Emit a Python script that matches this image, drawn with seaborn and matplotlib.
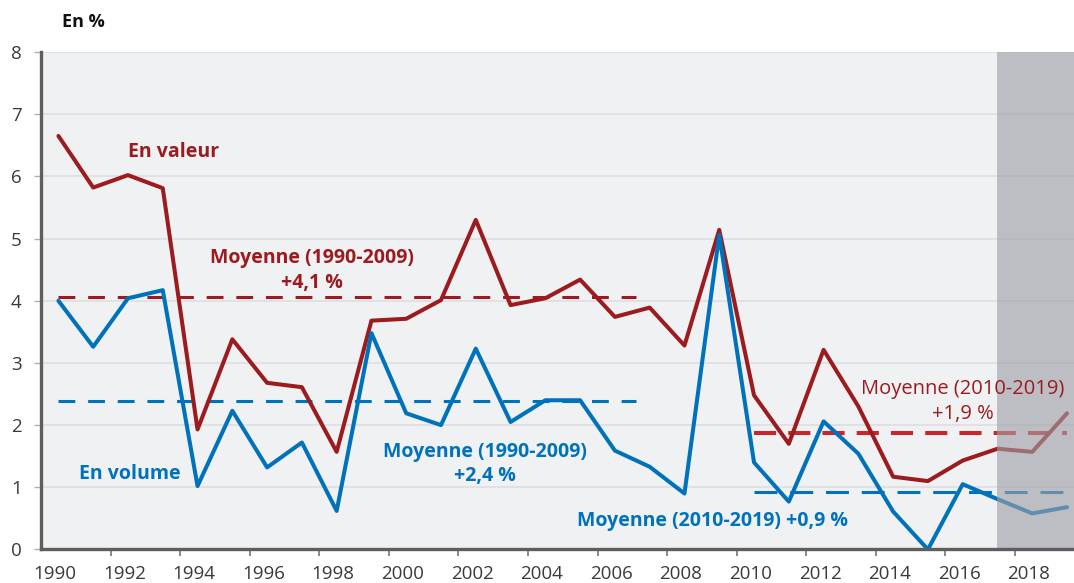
import numpy as np
import pandas as pd
import seaborn as sns
import matplotlib.pyplot as plt

# data
years = list(range(1990, 2020))
valeur = [6.65, 5.82, 6.02, 5.81, 1.93, 3.38, 2.68, 2.61, 1.57, 3.68,
          3.71, 4.01, 5.30, 3.93, 4.04, 4.34, 3.74, 3.89, 3.28, 5.14,
          2.48, 1.70, 3.21, 2.30, 1.17, 1.10, 1.43, 1.62, 1.57, 2.19]
volume = [4.00, 3.26, 4.04, 4.17, 1.02, 2.23, 1.32, 1.72, 0.62, 3.48,
          2.19, 2.00, 3.23, 2.05, 2.40, 2.40, 1.59, 1.33, 0.90, 5.06,
          1.40, 0.77, 2.06, 1.54, 0.61, 0.00, 1.05, 0.81, 0.58, 0.68]
mean_valeur = [4.06, 1.87]
mean_volume = [2.39, 0.93]
mean_spans = [(1990, 2006.6), (2010, 2019)]
forecast_from = 2017
xtick_years = list(range(1990, 2019, 2))

red = "#9B1B1F"
red_light = "#C8262C"
blue = "#0072BC"

sns.set_theme(style="white")
plt.rcParams["font.family"] = ["Open Sans", "DejaVu Sans"]

df = pd.DataFrame({
    "year": years * 2,
    "value": valeur + volume,
    "serie": ["En valeur"] * len(years) + ["En volume"] * len(years),
})
df["x"] = df["year"] + 0.5  # annual points drawn mid-year

fig = plt.figure(figsize=(10.74, 5.83), dpi=100)
ax = fig.add_axes([0.0382, 0.0575, 0.9618, 0.8533])
ax.set_facecolor("#F0F1F3")

sns.lineplot(data=df, x="x", y="value", hue="serie",
             palette={"En valeur": red, "En volume": blue},
             linewidth=2.9, legend=False, ax=ax, zorder=3)

# averages
(s1, e1), (s2, e2) = mean_spans
ax.hlines(mean_valeur[0], s1 + 0.5, e1 + 0.5, color=red, lw=2.2,
          linestyles=(0, (5.5, 4.2)), zorder=2)
ax.hlines(mean_volume[0], s1 + 0.5, e1 + 0.5, color=blue, lw=2.2,
          linestyles=(0, (5.5, 4.2)), zorder=2)
ax.hlines(mean_valeur[1], s2 + 0.5, e2 + 0.5, color=red_light, lw=2.9,
          linestyles=(0, (5.5, 3.0)), zorder=2)
ax.hlines(mean_volume[1], s2 + 0.5, e2 + 0.5, color=blue, lw=2.2,
          linestyles=(0, (7.5, 4.2)), zorder=2)

ax.set_xlim(1990, 2019.7)
ax.set_ylim(0, 8)

# forecast band
ax.axvspan(forecast_from + 0.5, 2019.7, color="#9FA0A6", alpha=0.62,
           lw=0, zorder=4)

# axes styling
ax.set_yticks(range(0, 9))
ax.yaxis.grid(True, color="#DCDDE0", lw=1.1)
ax.set_axisbelow(True)
for side in ["top", "right"]:
    ax.spines[side].set_visible(False)
for side in ["left", "bottom"]:
    ax.spines[side].set_color("#5E5E60")
    ax.spines[side].set_linewidth(2.4)
    ax.spines[side].set_zorder(6)

ax.set_xticks(xtick_years[1:])
ax.set_xticklabels([])
ax.set_xticks([y + 0.4 for y in xtick_years], minor=True)
ax.set_xticklabels([str(y) for y in xtick_years], minor=True)
ax.tick_params(axis="x", which="major", direction="out", length=5,
               width=1.4, color="#8A8A8C", bottom=True)
ax.tick_params(axis="x", which="minor", length=0, labelsize=13.5,
               labelcolor="#3A3A3C", pad=11)
ax.tick_params(axis="y", direction="out", length=5, width=1,
               color="#B0B0B3", left=True, labelsize=13.5,
               labelcolor="#3A3A3C", pad=9)
ax.set_xlabel("")
ax.set_ylabel("")

# annotations
txt = dict(ha="center", va="center", zorder=7, fontsize=14)
ax.text(1993.8, 6.39, "En valeur", color=red, fontweight="bold", **txt)
ax.text(1997.8, 4.69, "Moyenne (1990-2009)", color=red, fontweight="bold", **txt)
ax.text(1997.8, 4.28, "+4,1 %", color=red, fontweight="bold", **txt)
ax.text(1992.55, 1.21, "En volume", color=blue, fontweight="bold", **txt)
ax.text(2002.75, 1.57, "Moyenne (1990-2009)", color=blue, fontweight="bold", **txt)
ax.text(2002.75, 1.18, "+2,4 %", color=blue, fontweight="bold", **txt)
ax.text(2009.3, 0.46, "Moyenne (2010-2019) +0,9 %", color=blue,
        fontweight="bold", **txt)
ax.text(2016.5, 2.58, "Moyenne (2010-2019)", color=red,
        **{**txt, "fontsize": 14.5})
ax.text(2016.5, 2.18, "+1,9 %", color=red, **{**txt, "fontsize": 14.5})

fig.text(0.058, 0.962, "En %", fontsize=13, fontweight="bold",
         color="#111111", va="center")

fig.savefig("out.png", dpi=100)
